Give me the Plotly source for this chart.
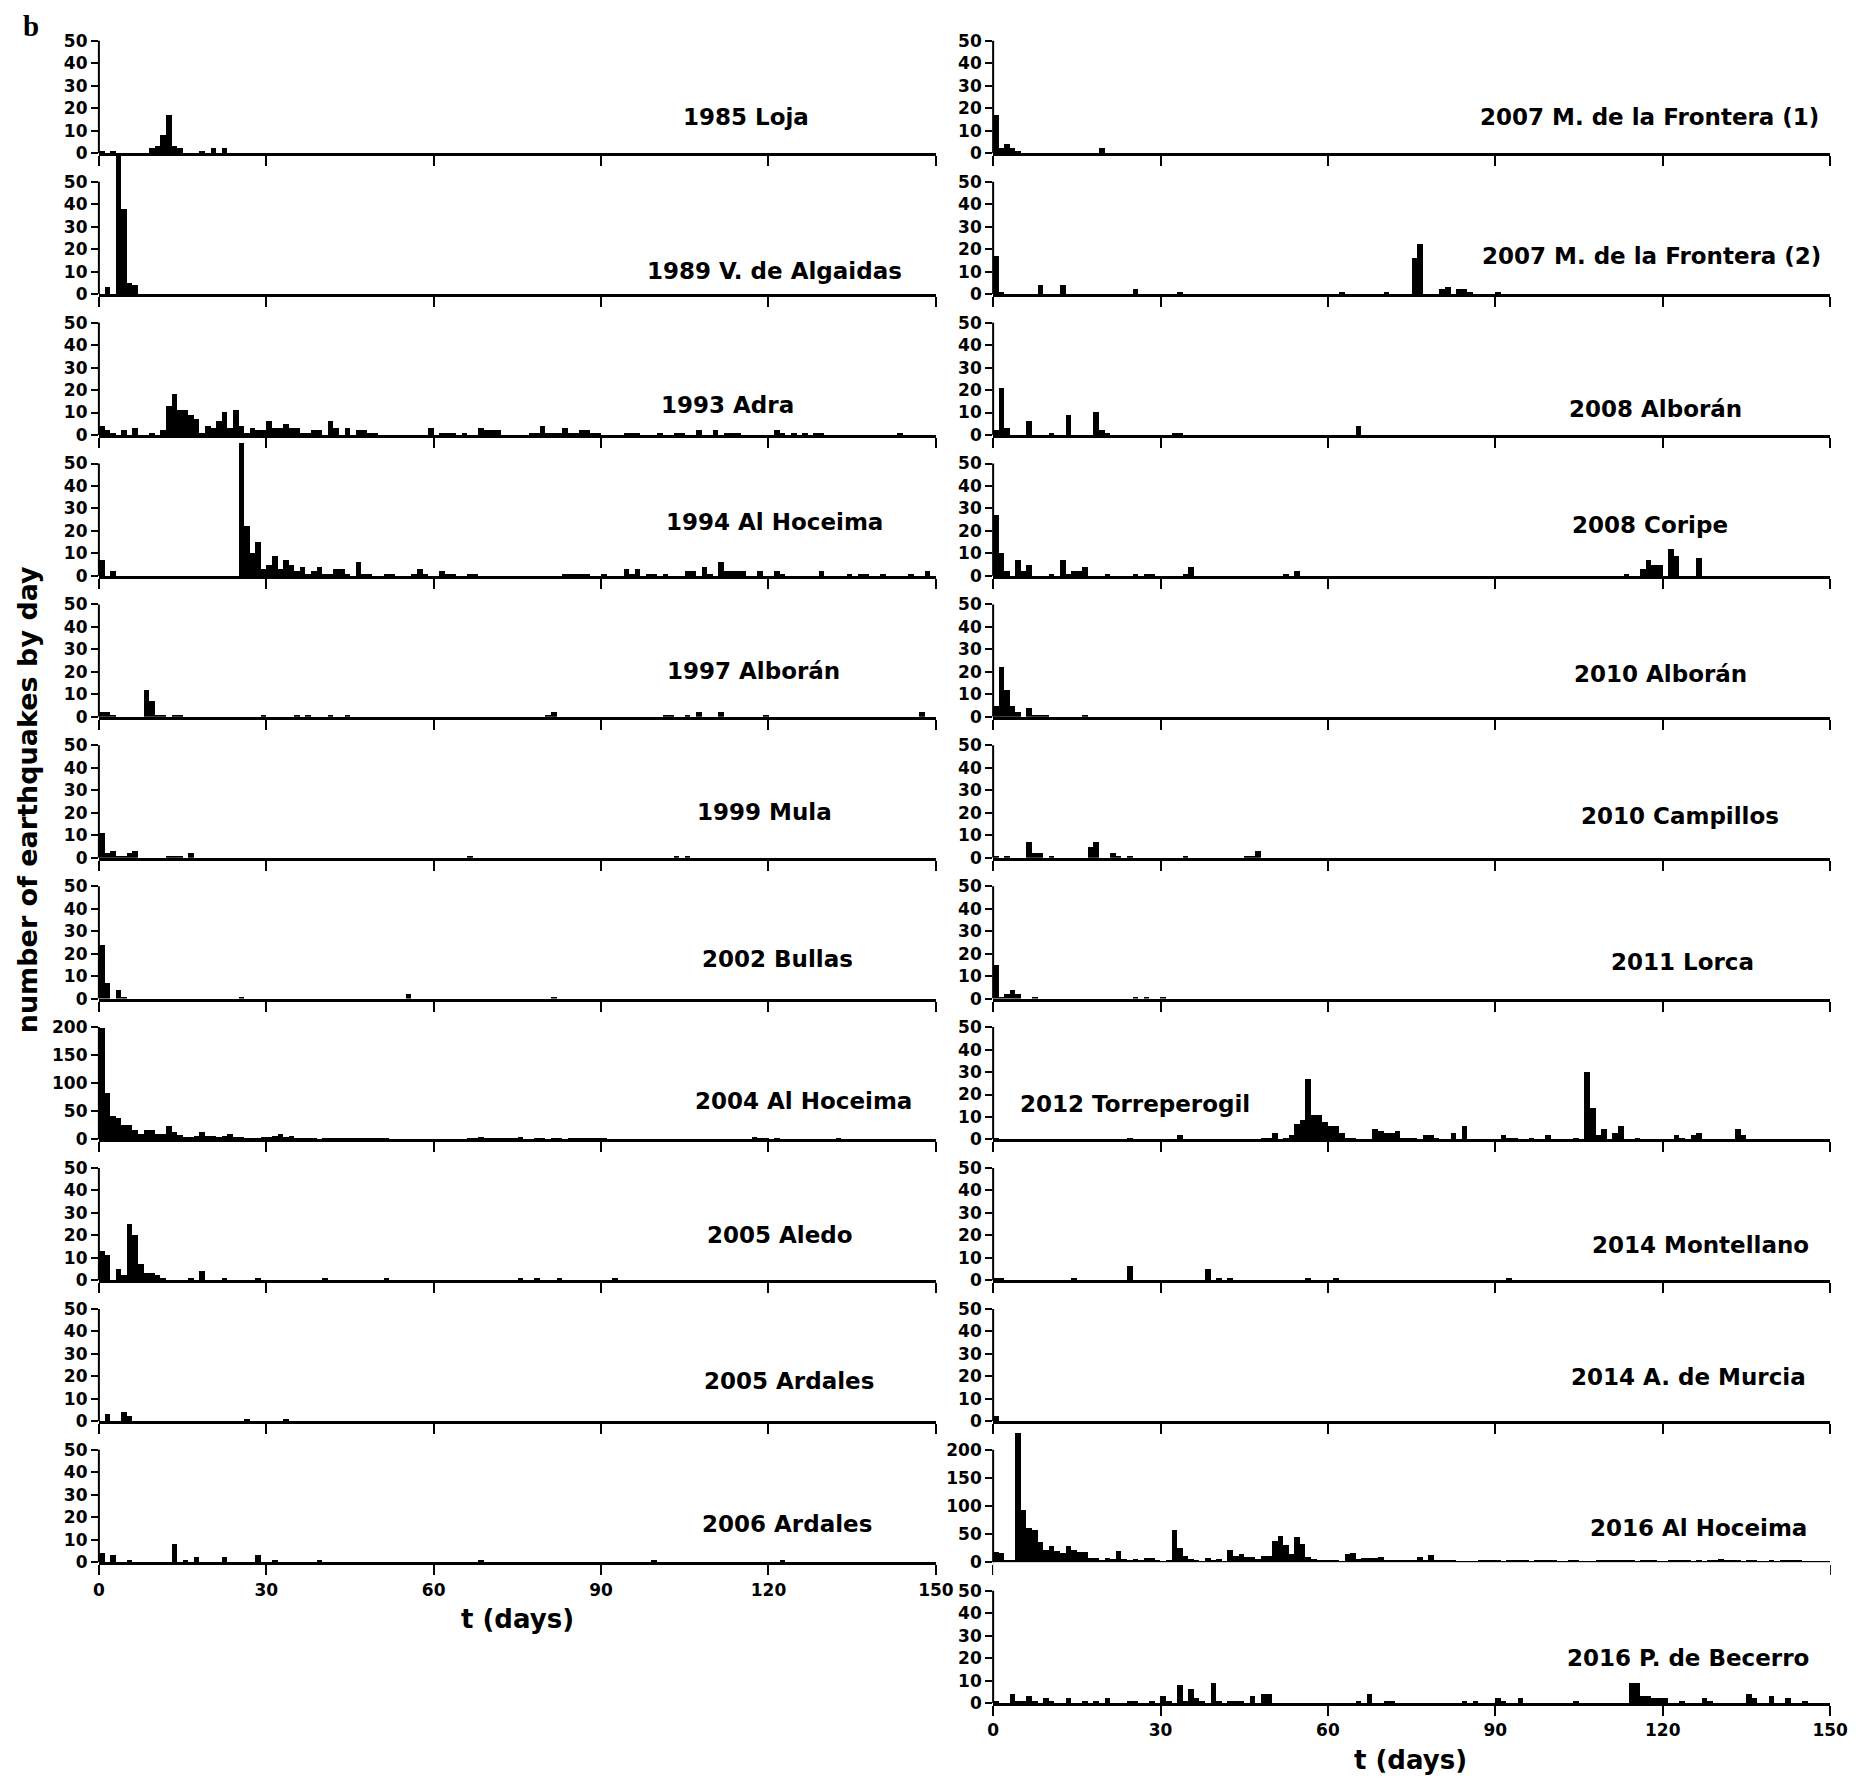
import plotly.graph_objects as go

# ---------------- data: day index (bar starts at that day) and number of events ----------------
loja_days = [0, 2, 9, 10, 11, 12, 13, 14, 18, 20, 22]
loja_counts = [1, 1, 2, 3, 8, 17, 3, 2, 1, 2, 2]

algaidas_days = [1, 3, 4, 5, 6]
algaidas_counts = [3, 62, 38, 5, 4]

adra_days = [0, 1, 2, 4, 6, 9, 11,
             12, 13, 14, 15, 16, 17, 18, 19, 20, 21, 22, 23, 24, 25, 26, 27, 28, 29, 30, 31, 32, 33, 34, 35, 36, 37, 38, 39,
             41, 42, 44, 46, 47, 48, 49, 59, 61, 62, 63, 65, 68, 69, 70, 71,
             77, 78, 79, 80, 81, 82, 83, 84, 85, 86, 87, 88, 89,
             94, 95, 96, 100, 103, 104, 107, 110, 112, 113, 114, 121, 122, 124, 126, 128, 129, 143]
adra_counts = [4, 2, 1, 2, 3, 1, 2,
               13, 18, 11, 11, 9, 7, 1, 4, 3, 6, 10, 3, 11, 4, 1, 3, 2, 2, 6, 3, 3, 5, 3, 3, 1, 1, 2, 2,
               6, 3, 3, 2, 2, 1, 1, 3, 1, 1, 1, 1, 3, 2, 2, 2,
               1, 1, 4, 1, 1, 1, 3, 1, 1, 2, 2, 1, 1,
               1, 1, 1, 1, 1, 1, 2, 2, 1, 1, 1, 2, 1, 1, 1, 1, 1, 1]

hoceima94_days = [0, 2,
                  25, 26, 27, 28, 29, 30, 31, 32, 33, 34, 35, 36, 37, 38, 39, 40, 41, 42, 43, 44,
                  46, 47, 48, 51, 52, 56, 57, 58, 61, 62, 63, 66, 67, 83, 84, 85, 86, 87, 90,
                  94, 95, 96, 98, 99, 101, 105, 106, 108, 109, 111, 112, 113, 114, 115,
                  118, 121, 122, 129, 134, 136, 137, 140, 145, 148]
hoceima94_counts = [7, 2,
                    59, 22, 10, 15, 3, 5, 9, 3, 7, 5, 2, 4, 1, 2, 4, 1, 1, 3, 3, 1,
                    6, 1, 1, 1, 1, 1, 3, 1, 2, 1, 1, 1, 1, 1, 1, 1, 1, 1, 1,
                    3, 1, 3, 1, 1, 1, 2, 2, 4, 1, 6, 2, 2, 2, 2,
                    2, 2, 1, 2, 1, 1, 1, 1, 1, 2]

alboran97_days = [0, 1, 2, 8, 9, 10, 11, 13, 14, 29, 35, 37, 41, 44, 80, 81, 101, 102, 105, 107, 111, 119, 147]
alboran97_counts = [2, 2, 1, 12, 7, 1, 1, 1, 1, 1, 1, 1, 1, 1, 1, 2, 1, 1, 1, 2, 2, 1, 2]

mula_days = [0, 1, 2, 3, 4, 5, 6, 12, 13, 14, 16, 66, 103, 105]
mula_counts = [11, 2, 3, 1, 1, 2, 3, 1, 1, 1, 2, 1, 1, 1]

bullas_days = [0, 1, 3, 4, 25, 55, 81]
bullas_counts = [24, 7, 4, 1, 1, 2, 1]

hoceima04_days = [0, 1, 2, 3, 4, 5, 6, 7, 8, 9, 10, 11, 12, 13, 14, 15, 16, 17, 18, 19, 20, 21, 22, 23, 24, 25, 26,
                  27, 28, 29, 30, 31, 32, 33, 34, 35, 36, 37, 38, 39, 40, 41, 42, 43, 44, 45, 46, 47, 48, 49, 50, 51,
                  52, 53, 60, 65, 66, 67, 68, 69, 70, 71, 72, 73, 74, 75, 76, 78, 79, 80, 81, 82,
                  84, 85, 86, 87, 88, 89, 90, 92, 112, 117, 118, 119, 121, 125, 132, 137]
hoceima04_counts = [200, 84, 42, 39, 27, 26, 17, 11, 18, 18, 10, 10, 25, 14, 9, 5, 5, 7, 14, 7, 7, 5, 7, 10, 5, 5, 4,
                    4, 4, 5, 5, 7, 10, 5, 7, 4, 4, 2, 2, 1, 3, 3, 3, 3, 3, 2, 2, 3, 2, 2, 2, 2,
                    1, 1, 1, 1, 2, 2, 5, 2, 2, 4, 2, 2, 2, 5, 1, 2, 2, 1, 3, 3,
                    2, 2, 2, 2, 2, 2, 3, 1, 1, 5, 4, 2, 2, 1, 2, 1]

aledo_days = [0, 1, 3, 4, 5, 6, 7, 8, 9, 10, 11, 16, 18, 22, 28, 40, 51, 75, 78, 82, 92]
aledo_counts = [13, 11, 5, 2, 25, 20, 7, 3, 3, 2, 1, 1, 4, 1, 1, 1, 1, 1, 1, 1, 1]

ardales05_days = [1, 4, 5, 26, 33]
ardales05_counts = [3, 4, 2, 1, 1]

ardales06_days = [0, 2, 5, 13, 15, 17, 22, 28, 31, 39, 68, 99, 122]
ardales06_counts = [4, 3, 1, 8, 1, 2, 2, 3, 1, 1, 1, 1, 1]

frontera1_days = [0, 1, 2, 3, 4, 19]
frontera1_counts = [17, 2, 4, 2, 1, 2]

frontera2_days = [0, 1, 8, 12, 25, 33, 62, 70, 75, 76, 80, 81, 83, 84, 85, 90]
frontera2_counts = [17, 1, 4, 4, 2, 1, 1, 1, 16, 22, 2, 3, 2, 2, 1, 1]

alboran08_days = [0, 1, 2, 6, 10, 13, 18, 19, 20, 32, 33, 65]
alboran08_counts = [2, 21, 3, 6, 1, 9, 10, 2, 1, 1, 1, 4]

coripe_days = [0, 1, 2, 4, 5, 6, 10, 12, 13, 14, 15, 16, 20, 25, 27, 28, 34, 35, 52, 54,
               113, 116, 117, 118, 119, 121, 122, 126]
coripe_counts = [27, 10, 2, 7, 2, 5, 1, 7, 1, 2, 2, 4, 1, 1, 1, 1, 1, 4, 1, 2,
                 1, 3, 7, 5, 5, 12, 9, 8]

alboran10_days = [0, 1, 2, 3, 4, 6, 7, 8, 9, 16]
alboran10_counts = [5, 22, 12, 5, 2, 4, 1, 1, 1, 1]

campillos_days = [0, 2, 6, 7, 8, 10, 17, 18, 21, 22, 24, 34, 45, 46, 47]
campillos_counts = [1, 1, 7, 2, 2, 1, 5, 7, 2, 1, 1, 1, 1, 1, 3]

lorca_days = [0, 1, 2, 3, 4, 7, 25, 27, 30]
lorca_counts = [15, 1, 2, 4, 2, 1, 1, 1, 1]

torre_days = [0, 24, 33, 48, 49, 50,
              52, 53, 54, 55, 56, 57, 58, 59, 60, 61, 62, 63, 64,
              68, 69, 70, 71, 72, 73, 74, 75, 77, 78, 79, 82, 84, 91, 92, 93, 96, 99, 104,
              106, 107, 108, 109, 111, 112, 115, 122, 123, 125, 126, 133, 134]
torre_counts = [1, 1, 2, 1, 1, 3,
                1, 2, 7, 9, 27, 11, 11, 8, 6, 6, 3, 1, 1,
                5, 4, 3, 3, 4, 1, 1, 1, 2, 2, 1, 3, 6, 2, 1, 1, 1, 2, 1,
                30, 14, 2, 5, 3, 6, 1, 2, 1, 2, 3, 5, 2]

montellano_days = [0, 1, 14, 24, 38, 40, 42, 56, 61, 92]
montellano_counts = [1, 1, 1, 6, 5, 1, 1, 1, 1, 1]

murcia_days = [0]
murcia_counts = [2]

hoceima16_days = list(range(150))
hoceima16_counts = [18, 16, 2, 4, 230, 93, 61, 57, 35, 22, 28, 20, 15, 28, 22, 18, 17, 7, 7, 3,
                    7, 5, 20, 5, 2, 5, 4, 7, 7, 4, 1, 2, 56, 24, 10, 6, 3, 1, 7, 2,
                    5, 1, 22, 11, 14, 8, 8, 6, 10, 11, 38, 47, 30, 14, 45, 32, 9, 5, 4, 3,
                    3, 2, 1, 14, 15, 5, 7, 7, 7, 8, 2, 4, 3, 3, 3, 3, 9, 3, 12, 2,
                    3, 3, 3, 1, 1, 1, 1, 2, 2, 2, 3, 1, 2, 2, 3, 4, 1, 2, 3, 3,
                    2, 1, 1, 2, 2, 1, 1, 1, 2, 2, 3, 3, 2, 3, 2, 1, 2, 2, 2, 1,
                    1, 3, 3, 3, 2, 1, 2, 1, 2, 3, 5, 3, 2, 2, 1, 2, 2, 1, 1, 2,
                    1, 3, 4, 4, 2, 1, 1, 1, 1, 1]

becerro_days = [0, 3, 4, 5, 6, 7, 9, 10, 13, 16, 18, 20, 24, 25, 28, 30, 31, 33, 34, 35, 36, 37, 39, 40,
                42, 43, 44, 46, 48, 49, 65, 67, 70, 71, 84, 86, 90, 91, 94, 104,
                114, 115, 116, 117, 118, 119, 120, 123, 127, 128, 135, 136, 139, 142, 145]
becerro_counts = [1, 4, 1, 1, 3, 1, 2, 1, 2, 1, 1, 2, 1, 1, 1, 3, 1, 8, 1, 6, 2, 1, 9, 1,
                  1, 1, 1, 3, 4, 4, 1, 4, 1, 1, 1, 1, 2, 1, 2, 1,
                  9, 9, 3, 3, 2, 2, 2, 1, 2, 1, 4, 2, 3, 2, 1]

# (label, days, counts, column, row, top tick of y axis)
panels = [
    ("1985 Loja", loja_days, loja_counts, 0, 0, 50),
    ("1989 V. de Algaidas", algaidas_days, algaidas_counts, 0, 1, 50),
    ("1993 Adra", adra_days, adra_counts, 0, 2, 50),
    ("1994 Al Hoceima", hoceima94_days, hoceima94_counts, 0, 3, 50),
    ("1997 Alborán", alboran97_days, alboran97_counts, 0, 4, 50),
    ("1999 Mula", mula_days, mula_counts, 0, 5, 50),
    ("2002 Bullas", bullas_days, bullas_counts, 0, 6, 50),
    ("2004 Al Hoceima", hoceima04_days, hoceima04_counts, 0, 7, 200),
    ("2005 Aledo", aledo_days, aledo_counts, 0, 8, 50),
    ("2005 Ardales", ardales05_days, ardales05_counts, 0, 9, 50),
    ("2006 Ardales", ardales06_days, ardales06_counts, 0, 10, 50),
    ("2007 M. de la Frontera (1)", frontera1_days, frontera1_counts, 1, 0, 50),
    ("2007 M. de la Frontera (2)", frontera2_days, frontera2_counts, 1, 1, 50),
    ("2008 Alborán", alboran08_days, alboran08_counts, 1, 2, 50),
    ("2008 Coripe", coripe_days, coripe_counts, 1, 3, 50),
    ("2010 Alborán", alboran10_days, alboran10_counts, 1, 4, 50),
    ("2010 Campillos", campillos_days, campillos_counts, 1, 5, 50),
    ("2011 Lorca", lorca_days, lorca_counts, 1, 6, 50),
    ("2012 Torreperogil", torre_days, torre_counts, 1, 7, 50),
    ("2014 Montellano", montellano_days, montellano_counts, 1, 8, 50),
    ("2014 A. de Murcia", murcia_days, murcia_counts, 1, 9, 50),
    ("2016 Al Hoceima", hoceima16_days, hoceima16_counts, 1, 10, 200),
    ("2016 P. de Becerro", becerro_days, becerro_counts, 1, 11, 50),
]

# label centre positions in page pixels (x, y)
label_pos = [
    (750, 118), (778, 272), (731, 407), (779, 525), (757, 675), (768, 817),
    (782, 964), (808, 1107), (784, 1242), (793, 1389), (791, 1533),
    (1665, 118), (1667, 257), (1671, 411), (1666, 528), (1676, 678), (1696, 821),
    (1698, 967), (1144, 1110), (1717, 1252), (1705, 1385), (1715, 1537), (1704, 1667),
]

# ---------------- geometry (page pixels) ----------------
OFF = 8                      # body margin of the html page
W, H = 1866 - 2 * OFF, 1788 - 2 * OFF
COL_X = [(94, 942), (1000, 1848)]
BASE0 = 154        # baseline of first row
PITCH = 141.7      # row pitch
TICK_PX = 113      # px from 0 to the top tick (50 or 200)
BOTTOM_ROW = [10, 11]


def fx(px):
    return (px - OFF) / W


def fy(py):
    return 1 - (py - OFF) / H


FONT = "DejaVu Sans"
tick_font = dict(family=FONT, size=17, color="black", weight="bold")

fig = go.Figure()
annotations = []

for i, (label, days, counts, col, row, ytop) in enumerate(panels):
    assert len(days) == len(counts), label
    n = i + 1
    sfx = "" if n == 1 else str(n)
    xa, ya = "x" + sfx, "y" + sfx

    fig.add_trace(go.Bar(
        x=[d + 0.5 for d in days], y=counts, width=1,
        marker=dict(color="black", line=dict(width=0)),
        xaxis=xa, yaxis=ya, showlegend=False, name=label,
    ))

    x0, x1 = COL_X[col]
    base = BASE0 + PITCH * row
    top = base - PITCH
    step = 10 if ytop == 50 else 50

    fig.layout["xaxis" + sfx] = dict(
        domain=[fx(x0), fx(x1)], anchor=ya, range=[0, 150],
        showline=True, linewidth=3, linecolor="black",
        ticks="outside", ticklen=10, tickwidth=2, tickcolor="black",
        tickvals=[0, 30, 60, 90, 120, 150],
        showticklabels=(row == BOTTOM_ROW[col]), tickfont=tick_font,
        showgrid=False, zeroline=False, fixedrange=True,
    )
    fig.layout["yaxis" + sfx] = dict(
        domain=[fy(base), fy(top)], anchor=xa,
        range=[0, ytop * PITCH / TICK_PX],
        showline=False, ticks="outside", ticklen=7, tickwidth=2, tickcolor="black",
        tickvals=list(range(0, ytop + 1, step)), tickfont=tick_font,
        showgrid=False, zeroline=False, fixedrange=True,
    )
    # y spine only up to the top tick
    fig.add_shape(type="line", xref="paper", yref=ya, x0=fx(x0), x1=fx(x0),
                  y0=0, y1=ytop, line=dict(color="black", width=2))

    lx, ly = label_pos[i]
    annotations.append(dict(
        text=label, xref="paper", yref="paper", x=fx(lx), y=fy(ly),
        xanchor="center", yanchor="middle", showarrow=False,
        font=dict(family=FONT, size=23, color="black", weight="bold"),
    ))

# axis titles and panel letter
annotations += [
    dict(text="number of earthquakes by day", xref="paper", yref="paper",
         x=fx(22), y=fy(804), textangle=-90, xanchor="center", yanchor="middle",
         showarrow=False, font=dict(family=FONT, size=27, color="black", weight="bold")),
    dict(text="t (days)", xref="paper", yref="paper", x=fx(518), y=fy(1628),
         xanchor="center", yanchor="middle", showarrow=False,
         font=dict(family=FONT, size=26, color="black", weight="bold")),
    dict(text="t (days)", xref="paper", yref="paper", x=fx(1423), y=fy(1770),
         xanchor="center", yanchor="middle", showarrow=False,
         font=dict(family=FONT, size=26, color="black", weight="bold")),
    dict(text="b", xref="paper", yref="paper", x=fx(15), y=1,
         xanchor="left", yanchor="top", showarrow=False,
         font=dict(family="Liberation Serif", size=29, color="black", weight="bold")),
]

fig.update_layout(
    width=W, height=H,
    margin=dict(l=0, r=0, t=0, b=0),
    paper_bgcolor="white", plot_bgcolor="white",
    bargap=0, annotations=annotations,
)

fig.write_html("out.html")
